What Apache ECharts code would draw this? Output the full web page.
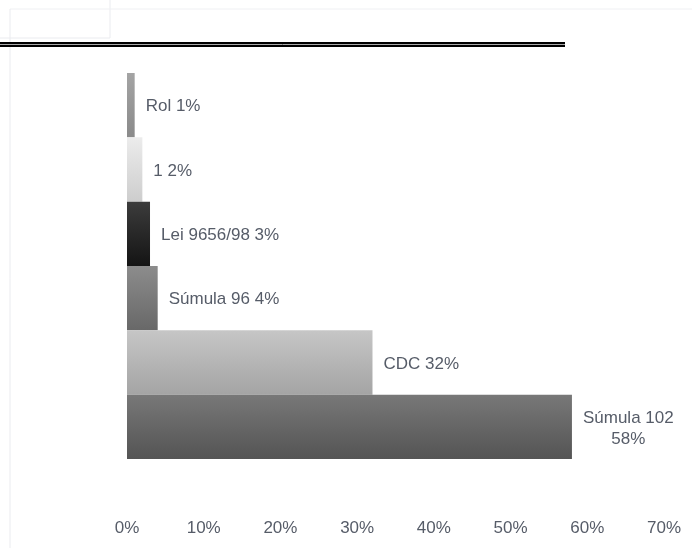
<!DOCTYPE html>
<html>
<head>
<meta charset="utf-8">
<script src="https://cdn.jsdelivr.net/npm/echarts@6/dist/echarts.min.js"></script>
<style>
  html, body { margin: 0; padding: 0; background: #ffffff; }
  #chart { width: 692px; height: 548px; }
</style>
</head>
<body>
<div id="chart"></div>
<script>
// Categories from top to bottom
const categories = ['Rol', '1', 'Lei 9656/98', 'Súmula 96', 'CDC', 'Súmula 102'];
// Share of each source, in percent
const shares = [1, 2, 3, 4, 32, 58];
// Percent ticks on the horizontal axis
const tickValues = [0, 10, 20, 30, 40, 50, 60, 70];

// Vertical gradient per bar: [top, bottom]
const barShades = [
  ['#a4a4a4', '#8a8a8a'],
  ['#ececec', '#cdcdcd'],
  ['#3c3c3c', '#141414'],
  ['#8c8c8c', '#686868'],
  ['#c6c6c6', '#a4a4a4'],
  ['#787878', '#545454']
];

const textColor = '#565c68';
const fontFamily = '"Liberation Sans", Arial, sans-serif';

const chart = echarts.init(document.getElementById('chart'), null, { renderer: 'canvas' });

const seriesData = shares.map((v, i) => ({
  value: v,
  name: categories[i],
  itemStyle: {
    color: new echarts.graphic.LinearGradient(0, 0, 0, 1, [
      { offset: 0, color: barShades[i][0] },
      { offset: 1, color: barShades[i][1] }
    ])
  }
}));

chart.setOption({
  backgroundColor: '#ffffff',
  animation: false,
  grid: { left: 127, right: 28, top: 73, height: 386, containLabel: false },
  xAxis: {
    type: 'value',
    min: tickValues[0],
    max: tickValues[tickValues.length - 1],
    interval: 10,
    axisLine: { show: false },
    axisTick: { show: false },
    splitLine: { show: false },
    axisLabel: {
      margin: 61,
      color: textColor,
      fontSize: 17,
      fontFamily: fontFamily,
      formatter: v => v + '%'
    }
  },
  yAxis: {
    type: 'category',
    data: categories,
    inverse: true,
    axisLine: { show: false },
    axisTick: { show: false },
    axisLabel: { show: false },
    splitLine: { show: false }
  },
  series: [{
    type: 'bar',
    data: seriesData,
    barCategoryGap: 0,
    barWidth: '100%',
    label: {
      show: true,
      position: 'right',
      distance: 11,
      offset: [0, 1.5],
      color: textColor,
      fontSize: 17,
      fontFamily: fontFamily,
      formatter: p => {
        if (p.dataIndex === shares.length - 1) {
          return '{c|' + p.name + '}\n{c|' + p.value + '%}';
        }
        return p.name + ' ' + p.value + '%';
      },
      rich: {
        c: {
          align: 'center',
          color: textColor,
          fontSize: 17,
          fontFamily: fontFamily,
          lineHeight: 21
        }
      }
    }
  }],
  graphic: [
    // faint frame lines of the slide
    { type: 'line', shape: { x1: 110, y1: 0, x2: 110, y2: 38 }, style: { stroke: '#eaebef', lineWidth: 1 }, silent: true },
    { type: 'line', shape: { x1: 0, y1: 38, x2: 110, y2: 38 }, style: { stroke: '#eaebef', lineWidth: 1 }, silent: true },
    { type: 'line', shape: { x1: 10, y1: 9, x2: 692, y2: 9 }, style: { stroke: '#eff0f3', lineWidth: 1 }, silent: true },
    { type: 'line', shape: { x1: 10, y1: 9, x2: 10, y2: 548 }, style: { stroke: '#eaebef', lineWidth: 1 }, silent: true },
    // double rule under the title area
    { type: 'rect', shape: { x: 0, y: 42, width: 565, height: 5 }, style: { fill: '#000000' }, silent: true },
    { type: 'line', shape: { x1: 0, y1: 44.5, x2: 565, y2: 44.5 }, style: { stroke: '#a8a8a8', lineWidth: 1 }, silent: true }
  ]
});
</script>
</body>
</html>
